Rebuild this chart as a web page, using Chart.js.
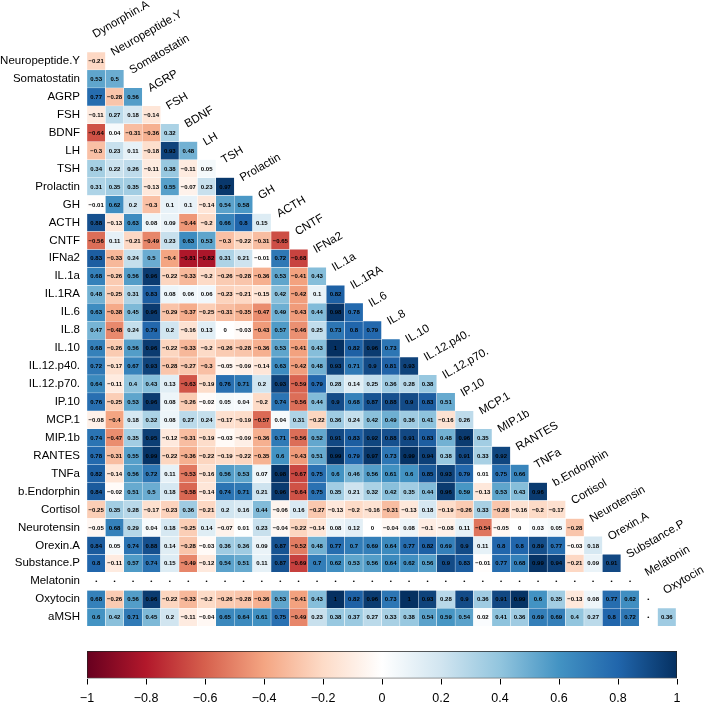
<!DOCTYPE html>
<html>
<head>
<meta charset="utf-8">
<title>Correlation matrix</title>
<script src="https://cdn.jsdelivr.net/npm/chart.js@4.4.1/dist/chart.umd.min.js"></script>
<style>
    html, body { margin: 0; padding: 0; background: #fff; }
    #wrap      { position: relative; width: 712px; height: 706px; }
    #matrixBox { position: absolute; left: 0; top: 0;     width: 712px; height: 640px; }
    #barBox    { position: absolute; left: 0; top: 640px; width: 712px; height: 66px; }
</style>
</head>
<body>
<div id="wrap">
    <div id="matrixBox"><canvas id="matrix"></canvas></div>
    <div id="barBox"><canvas id="colorbar"></canvas></div>
</div>
<script>
// ============================================================
//  Matriz de correlación (triángulo inferior) + barra de color
// ============================================================

const colNames = ['Dynorphin.A', 'Neuropeptide.Y', 'Somatostatin', 'AGRP', 'FSH', 'BDNF', 'LH', 'TSH',
    'Prolactin', 'GH', 'ACTH', 'CNTF', 'IFNa2', 'IL.1a', 'IL.1RA', 'IL.6', 'IL.8', 'IL.10', 'IL.12.p40.',
    'IL.12.p70.', 'IP.10', 'MCP.1', 'MIP.1b', 'RANTES', 'TNFa', 'b.Endorphin', 'Cortisol', 'Neurotensin',
    'Orexin.A', 'Substance.P', 'Melatonin', 'Oxytocin'];

const rowNames = ['Neuropeptide.Y', 'Somatostatin', 'AGRP', 'FSH', 'BDNF', 'LH', 'TSH', 'Prolactin', 'GH',
    'ACTH', 'CNTF', 'IFNa2', 'IL.1a', 'IL.1RA', 'IL.6', 'IL.8', 'IL.10', 'IL.12.p40.', 'IL.12.p70.', 'IP.10',
    'MCP.1', 'MIP.1b', 'RANTES', 'TNFa', 'b.Endorphin', 'Cortisol', 'Neurotensin', 'Orexin.A', 'Substance.P',
    'Melatonin', 'Oxytocin', 'aMSH'];

// ── Una fila por variable (columnas 1..k); null = NA ──
const neuropeptideY = [-0.21];
const somatostatin  = [0.53, 0.5];
const agrp          = [0.77, -0.28, 0.56];
const fsh           = [-0.11, 0.27, 0.18, -0.14];
const bdnf          = [-0.64, 0.04, -0.31, -0.36, 0.32];
const lh            = [-0.3, 0.23, 0.11, -0.18, 0.93, 0.48];
const tsh           = [0.34, 0.22, 0.26, -0.11, 0.38, -0.11, 0.05];
const prolactin     = [0.31, 0.35, 0.35, -0.13, 0.55, -0.07, 0.23, 0.97];
const gh            = [-0.01, 0.62, 0.2, -0.3, 0.1, 0.1, -0.14, 0.54, 0.58];
const acth          = [0.88, -0.13, 0.63, 0.08, 0.09, -0.44, -0.2, 0.66, 0.8, 0.15];
const cntf          = [-0.56, 0.11, -0.21, -0.49, 0.23, 0.63, 0.53, -0.3, -0.22, -0.31, -0.65];
const ifna2         = [0.83, -0.33, 0.24, 0.5, -0.4, -0.81, -0.82, 0.31, 0.21, -0.01, 0.72, -0.68];
const il1a          = [0.68, -0.26, 0.56, 0.96, -0.22, -0.33, -0.2, -0.26, -0.28, -0.36, 0.53, -0.41, 0.43];
const il1ra         = [0.48, -0.25, 0.31, 0.83, 0.08, 0.06, 0.06, -0.23, -0.21, -0.15, 0.42, -0.42, 0.1, 0.82];
const il6           = [0.63, -0.38, 0.45, 0.96, -0.29, -0.37, -0.25, -0.31, -0.35, -0.47, 0.49, -0.43, 0.44, 0.98, 0.78];
const il8           = [0.47, -0.48, 0.24, 0.79, 0.2, -0.16, 0.13, 0, -0.03, -0.43, 0.57, -0.46, 0.25, 0.73, 0.8, 0.79];
const il10          = [0.68, -0.26, 0.56, 0.96, -0.22, -0.33, -0.2, -0.26, -0.28, -0.36, 0.53, -0.41, 0.43, 1, 0.82,
    0.96, 0.73];
const il12p40       = [0.72, -0.17, 0.67, 0.93, -0.28, -0.27, -0.3, -0.05, -0.09, -0.14, 0.63, -0.42, 0.48, 0.93,
    0.71, 0.9, 0.81, 0.93];
const il12p70       = [0.64, -0.11, 0.4, 0.43, 0.13, -0.63, -0.19, 0.76, 0.71, 0.2, 0.93, -0.59, 0.79, 0.28, 0.14,
    0.25, 0.36, 0.28, 0.38];
const ip10          = [0.76, -0.25, 0.53, 0.96, 0.08, -0.26, -0.02, 0.05, 0.04, -0.2, 0.74, -0.56, 0.44, 0.9, 0.68,
    0.87, 0.88, 0.9, 0.83, 0.51];
const mcp1          = [-0.08, -0.4, 0.18, 0.32, 0.08, 0.27, 0.24, -0.17, -0.19, -0.57, 0.04, 0.31, -0.22, 0.36,
    0.24, 0.42, 0.49, 0.36, 0.41, -0.16, 0.26];
const mip1b         = [0.74, -0.47, 0.35, 0.95, -0.12, -0.31, -0.19, -0.03, -0.09, -0.36, 0.71, -0.56, 0.52, 0.91,
    0.83, 0.92, 0.88, 0.91, 0.83, 0.48, 0.96, 0.35];
const rantes        = [0.78, -0.31, 0.55, 0.99, -0.22, -0.36, -0.22, -0.19, -0.22, -0.35, 0.6, -0.43, 0.51, 0.99,
    0.79, 0.97, 0.73, 0.99, 0.94, 0.38, 0.91, 0.33, 0.92];
const tnfa          = [0.82, -0.14, 0.56, 0.72, 0.11, -0.53, -0.16, 0.56, 0.53, 0.07, 0.98, -0.67, 0.75, 0.6, 0.46,
    0.56, 0.61, 0.6, 0.85, 0.93, 0.79, 0.01, 0.75, 0.66];
const bEndorphin    = [0.84, -0.02, 0.51, 0.5, 0.18, -0.58, -0.14, 0.74, 0.71, 0.21, 0.96, -0.64, 0.75, 0.35, 0.21,
    0.32, 0.42, 0.35, 0.44, 0.96, 0.59, -0.13, 0.53, 0.43, 0.96];
const cortisol      = [-0.25, 0.35, 0.28, -0.17, -0.23, 0.36, -0.21, 0.2, 0.16, 0.44, -0.06, 0.16, -0.27, -0.13,
    -0.2, -0.16, -0.31, -0.13, 0.18, -0.19, -0.26, 0.33, -0.28, -0.16, -0.2, -0.17];
const neurotensin   = [-0.05, 0.68, 0.29, 0.04, 0.18, -0.25, 0.14, -0.07, 0.01, 0.23, -0.04, -0.22, -0.14, 0.08,
    0.12, 0, -0.04, 0.08, -0.1, -0.08, 0.11, -0.54, -0.05, 0, 0.03, 0.05, -0.28];
const orexinA       = [0.84, 0.05, 0.74, 0.88, 0.14, -0.28, -0.03, 0.36, 0.36, 0.09, 0.87, -0.52, 0.48, 0.77, 0.7,
    0.69, 0.64, 0.77, 0.82, 0.69, 0.9, 0.11, 0.8, 0.8, 0.89, 0.77, -0.03, 0.18];
const substanceP    = [0.8, -0.11, 0.57, 0.74, 0.15, -0.49, -0.12, 0.54, 0.51, 0.11, 0.87, -0.69, 0.7, 0.62, 0.53,
    0.56, 0.64, 0.62, 0.56, 0.9, 0.83, -0.01, 0.77, 0.68, 0.99, 0.94, -0.21, 0.09, 0.91];
const melatonin     = colNames.slice(0, 30).map(() => null);
const oxytocin      = [0.68, -0.26, 0.56, 0.96, -0.22, -0.33, -0.2, -0.26, -0.28, -0.36, 0.53, -0.41, 0.43, 1, 0.82,
    0.96, 0.73, 1, 0.93, 0.28, 0.9, 0.36, 0.91, 0.99, 0.6, 0.35, -0.13, 0.08, 0.77, 0.62, null];
const amsh          = [0.6, 0.42, 0.71, 0.45, 0.2, -0.11, -0.04, 0.65, 0.64, 0.61, 0.75, -0.49, 0.23, 0.38, 0.37,
    0.27, 0.33, 0.38, 0.54, 0.59, 0.54, 0.02, 0.41, 0.36, 0.69, 0.69, 0.4, 0.27, 0.8, 0.72, null, 0.36];

const CORR_ROWS = [neuropeptideY, somatostatin, agrp, fsh, bdnf, lh, tsh, prolactin, gh, acth, cntf, ifna2,
    il1a, il1ra, il6, il8, il10, il12p40, il12p70, ip10, mcp1, mip1b, rantes, tnfa, bEndorphin, cortisol,
    neurotensin, orexinA, substanceP, melatonin, oxytocin, amsh];

const barTicks = [-1, -0.8, -0.6, -0.4, -0.2, 0, 0.2, 0.4, 0.6, 0.8, 1];

// Paleta RdBu (de -1 a 1)
const COL2 = ['#67001F', '#B2182B', '#D6604D', '#F4A582', '#FDDBC7', '#FFFFFF',
    '#D1E5F0', '#92C5DE', '#4393C3', '#2166AC', '#053061'];

const FONT = '"Liberation Sans", Arial, Helvetica, sans-serif';

function hexToRgb(hex) {
    const n = parseInt(hex.slice(1), 16);
    return [(n >> 16) & 255, (n >> 8) & 255, n & 255];
}

function colorCorr(v) {
    if (v === null || v === undefined) return 'rgba(255,255,255,0)';
    const t = (v + 1) / 2 * (COL2.length - 1);
    const i = Math.min(Math.floor(t), COL2.length - 2);
    const f = t - i;
    const a = hexToRgb(COL2[i]);
    const b = hexToRgb(COL2[i + 1]);
    const c = a.map((x, k) => Math.round(x + (b[k] - x) * f));
    return `rgb(${c[0]},${c[1]},${c[2]})`;
}

function formatoCorr(v) {
    if (v === null) return '•';
    return String(v).replace('-', '\u2212');
}

// ── Textos: números en celdas + etiquetas de columna en diagonal ──
const textoCeldas = {
    id: 'textoCeldas',
    afterDatasetsDraw(chart) {
        const { ctx, scales: { x, y } } = chart;
        ctx.save();
        ctx.fillStyle = '#000';
        ctx.font = `bold 6px ${FONT}`;
        ctx.textAlign = 'center';
        ctx.textBaseline = 'middle';
        CORR_ROWS.forEach((fila, r) => {
            fila.forEach((v, c) => {
                ctx.fillText(formatoCorr(v), x.getPixelForValue(c), y.getPixelForValue(r + 1) + 0.5);
            });
        });

        ctx.font = `11.5px ${FONT}`;
        ctx.textAlign = 'left';
        ctx.textBaseline = 'alphabetic';
        colNames.forEach((nombre, c) => {
            const px = x.getPixelForValue(c) - 1;
            const py = y.getPixelForValue(c - 0.5) + 4;
            ctx.save();
            ctx.translate(px, py);
            ctx.rotate(-30 * Math.PI / 180);
            ctx.fillText(nombre, 0, 0);
            ctx.restore();
        });
        ctx.restore();
    },
};

const datasets = rowNames.map((nombre, r) => ({
    label: nombre,
    data: colNames.map((_, c) => (c <= r ? [r + 0.5, r + 1.5] : null)),
    backgroundColor: colNames.map((_, c) => (c <= r ? colorCorr(CORR_ROWS[r][c]) : 'rgba(0,0,0,0)')),
    borderColor: 'rgba(255,255,255,0.9)',
    borderWidth: 0.5,
    borderSkipped: false,
    grouped: false,
    barPercentage: 1,
    categoryPercentage: 1,
}));

new Chart(document.getElementById('matrix'), {
    type: 'bar',
    data: { labels: colNames, datasets },
    options: {
        responsive: true,
        maintainAspectRatio: false,
        animation: false,
        layout: { padding: { left: 0, right: 36, top: 52, bottom: 2.4 } },
        plugins: { legend: { display: false }, tooltip: { enabled: false } },
        scales: {
            x: { type: 'category', display: false, offset: true, grid: { display: false } },
            y: {
                type: 'linear',
                min: 0.5,
                max: 32.5,
                reverse: true,
                afterBuildTicks: s => { s.ticks = rowNames.map((_, i) => ({ value: i + 1 })); },
                afterFit: s => { s.width = 87; },
                ticks: {
                    autoSkip: false,
                    padding: 7,
                    color: '#000',
                    font: { family: FONT, size: 11.5 },
                    callback: v => rowNames[v - 1],
                },
                grid: { display: false, drawTicks: false },
                border: { display: false },
            },
        },
    },
    plugins: [textoCeldas],
});

// ── Barra de color ──
function degradado(chart) {
    const area = chart.chartArea;
    if (!area) return COL2[5];
    const g = chart.ctx.createLinearGradient(area.left, 0, area.right, 0);
    COL2.forEach((col, i) => g.addColorStop(i / (COL2.length - 1), col));
    return g;
}

new Chart(document.getElementById('colorbar'), {
    type: 'bar',
    data: {
        labels: [''],
        datasets: [{
            data: [[barTicks[0], barTicks[barTicks.length - 1]]],
            backgroundColor: ctx => degradado(ctx.chart),
            borderColor: '#222',
            borderWidth: 1,
            borderSkipped: false,
            barPercentage: 1,
            categoryPercentage: 1,
        }],
    },
    options: {
        indexAxis: 'y',
        responsive: true,
        maintainAspectRatio: false,
        animation: false,
        layout: { padding: { left: 87, right: 35, top: 11, bottom: 0 } },
        plugins: { legend: { display: false }, tooltip: { enabled: false } },
        scales: {
            x: {
                type: 'linear',
                min: -1,
                max: 1,
                afterBuildTicks: s => { s.ticks = barTicks.map(v => ({ value: v })); },
                ticks: {
                    padding: 7,
                    color: '#000',
                    font: { family: FONT, size: 12.5 },
                    callback: v => String(Math.round(v * 10) / 10).replace('-', '\u2212'),
                },
                grid: { drawOnChartArea: false, drawTicks: true, tickLength: 6, color: '#000' },
                border: { display: false },
            },
            y: { type: 'category', display: false },
        },
    },
});
</script>
</body>
</html>
